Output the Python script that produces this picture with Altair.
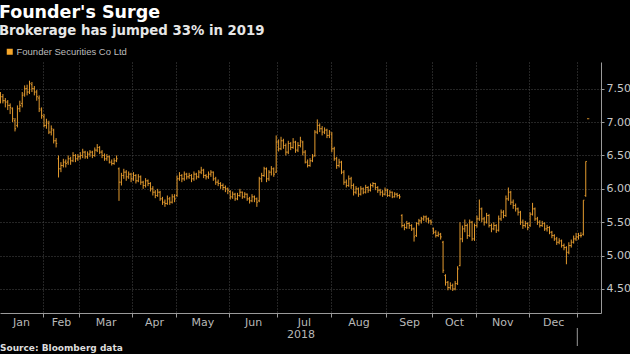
import json
import altair as alt
import pandas as pd

# ---------------- data ----------------
months = ["Jan", "Feb", "Mar", "Apr", "May", "Jun", "Jul", "Aug", "Sep", "Oct", "Nov", "Dec"]
# trading days shown per month: Jan 2018 (from Jan 8) ... Dec 2018, then Jan 2019 (to Jan 8)
trading_days = [18, 15, 22, 18, 22, 20, 22, 23, 19, 18, 22, 20, 5]
y_ticks = [4.5, 5.0, 5.5, 6.0, 6.5, 7.0, 7.5]
series_name = "Founder Securities Co Ltd"

opens = [
    7.35, 7.38, 7.32, 7.30, 7.25, 7.20, 7.02, 6.95, 7.20, 7.28, 7.42, 7.50, 7.45, 7.56, 7.50, 7.45, 7.36, 7.18,
    7.08, 6.95, 6.98, 6.85, 6.88, 6.72, 6.45, 6.30, 6.35, 6.40, 6.40, 6.45, 6.42, 6.50, 6.45,
    6.48, 6.50, 6.55, 6.48, 6.52, 6.55, 6.50, 6.58, 6.62, 6.55, 6.50, 6.45, 6.48, 6.40, 6.38, 6.42, 6.30, 6.10, 6.20, 6.25, 6.18, 6.22,
    6.15, 6.20, 6.12, 6.18, 6.10, 6.05, 6.12, 6.08, 6.00, 5.95, 5.90, 5.95, 5.85, 5.80, 5.78, 5.85, 5.80, 5.88,
    5.90, 6.15, 6.20, 6.15, 6.22, 6.18, 6.20, 6.15, 6.22, 6.18, 6.25, 6.28, 6.20, 6.18, 6.22, 6.25, 6.15, 6.10, 6.08, 6.05, 6.02, 6.00,
    5.96, 5.88, 5.92, 5.85, 5.90, 5.95, 5.88, 5.92, 5.85, 5.82, 5.88, 5.85, 5.82, 6.15, 6.20, 6.30, 6.15, 6.25, 6.30, 6.25,
    6.70, 6.60, 6.72, 6.65, 6.55, 6.68, 6.62, 6.70, 6.58, 6.65, 6.70, 6.55, 6.40, 6.35, 6.42, 6.50, 6.85, 6.95, 6.90, 6.85, 6.88, 6.80,
    6.82, 6.60, 6.45, 6.35, 6.40, 6.25, 6.10, 6.05, 6.15, 6.05, 5.95, 6.00, 5.92, 6.00, 5.95, 6.02, 5.98, 6.05, 6.08, 6.02, 5.98, 5.95, 5.92,
    5.98, 5.90, 5.95, 5.88, 5.92, 5.90, 5.60, 5.45, 5.42, 5.48, 5.45, 5.40, 5.30, 5.48, 5.52, 5.55, 5.58, 5.55, 5.52,
    5.40, 5.35, 5.30, 5.32, 5.20, 4.70, 4.60, 4.52, 4.55, 4.50, 4.58, 4.85, 5.25, 5.40, 5.45, 5.30, 5.50, 5.25,
    5.45, 5.55, 5.70, 5.55, 5.50, 5.60, 5.45, 5.40, 5.45, 5.38, 5.55, 5.65, 5.60, 5.85, 5.95, 5.80, 5.75, 5.70, 5.65, 5.50, 5.45, 5.48,
    5.45, 5.62, 5.70, 5.55, 5.50, 5.45, 5.48, 5.40, 5.42, 5.35, 5.30, 5.25, 5.20, 5.22, 5.15, 5.12, 5.05, 5.15, 5.20, 5.25,
    5.28, 5.30, 5.32, 5.90, 7.05,
]
highs = [
    7.45, 7.42, 7.36, 7.33, 7.28, 7.22, 7.06, 7.25, 7.32, 7.45, 7.55, 7.56, 7.62, 7.60, 7.54, 7.48, 7.40, 7.22,
    7.12, 7.05, 7.02, 6.95, 6.90, 6.76, 6.50, 6.40, 6.45, 6.44, 6.50, 6.48, 6.55, 6.52, 6.52,
    6.55, 6.60, 6.57, 6.56, 6.58, 6.57, 6.62, 6.67, 6.64, 6.58, 6.53, 6.52, 6.50, 6.44, 6.46, 6.50, 6.32, 6.24, 6.30, 6.28, 6.26, 6.24,
    6.25, 6.22, 6.22, 6.20, 6.12, 6.16, 6.14, 6.10, 6.04, 5.98, 6.00, 5.97, 5.88, 5.84, 5.90, 5.88, 5.92, 5.92,
    6.20, 6.25, 6.22, 6.26, 6.24, 6.24, 6.22, 6.26, 6.24, 6.28, 6.33, 6.30, 6.22, 6.26, 6.28, 6.26, 6.18, 6.14, 6.10, 6.08, 6.05, 6.02,
    5.98, 5.96, 5.94, 5.94, 6.00, 5.96, 5.95, 5.93, 5.88, 5.92, 5.90, 5.87, 6.18, 6.24, 6.33, 6.32, 6.28, 6.34, 6.32, 6.80,
    6.74, 6.78, 6.75, 6.68, 6.72, 6.70, 6.76, 6.72, 6.70, 6.78, 6.72, 6.58, 6.44, 6.46, 6.52, 6.88, 7.04, 6.98, 6.94, 6.92, 6.90, 6.88,
    6.85, 6.63, 6.48, 6.45, 6.42, 6.28, 6.14, 6.20, 6.18, 6.08, 6.04, 6.02, 6.04, 6.02, 6.06, 6.04, 6.08, 6.10, 6.09, 6.04, 6.00, 5.98, 6.02,
    6.00, 5.98, 5.96, 5.95, 5.94, 5.92, 5.62, 5.48, 5.52, 5.50, 5.47, 5.42, 5.50, 5.55, 5.58, 5.60, 5.60, 5.57, 5.54,
    5.42, 5.38, 5.36, 5.34, 5.22, 4.72, 4.62, 4.60, 4.58, 4.62, 4.84, 5.50, 5.45, 5.54, 5.48, 5.54, 5.52, 5.48,
    5.60, 5.84, 5.72, 5.58, 5.64, 5.62, 5.48, 5.50, 5.47, 5.60, 5.69, 5.68, 5.90, 6.02, 5.97, 5.84, 5.78, 5.72, 5.67, 5.54, 5.52, 5.50,
    5.65, 5.79, 5.72, 5.58, 5.53, 5.52, 5.50, 5.46, 5.44, 5.37, 5.32, 5.28, 5.26, 5.24, 5.18, 5.14, 5.20, 5.24, 5.30, 5.34,
    5.34, 5.35, 5.83, 6.41, 7.05,
]
lows = [
    7.28, 7.28, 7.22, 7.18, 7.12, 7.00, 6.86, 6.92, 7.15, 7.22, 7.38, 7.40, 7.42, 7.45, 7.40, 7.32, 7.15, 7.05,
    6.92, 6.90, 6.82, 6.80, 6.68, 6.62, 6.17, 6.25, 6.32, 6.32, 6.36, 6.36, 6.40, 6.40, 6.42,
    6.44, 6.46, 6.45, 6.45, 6.48, 6.46, 6.48, 6.55, 6.52, 6.46, 6.42, 6.42, 6.38, 6.35, 6.36, 6.40, 5.82, 6.05, 6.15, 6.12, 6.15, 6.10,
    6.12, 6.08, 6.10, 6.06, 6.00, 6.02, 6.04, 5.96, 5.90, 5.86, 5.88, 5.82, 5.76, 5.73, 5.76, 5.76, 5.78, 5.80,
    5.88, 6.12, 6.10, 6.12, 6.14, 6.15, 6.10, 6.12, 6.14, 6.16, 6.22, 6.16, 6.14, 6.15, 6.18, 6.12, 6.06, 6.04, 6.00, 5.98, 5.95, 5.92,
    5.84, 5.85, 5.82, 5.83, 5.88, 5.85, 5.86, 5.82, 5.78, 5.80, 5.80, 5.73, 5.80, 6.10, 6.18, 6.10, 6.12, 6.20, 6.18, 6.24,
    6.56, 6.58, 6.60, 6.50, 6.52, 6.58, 6.60, 6.54, 6.55, 6.62, 6.50, 6.38, 6.32, 6.33, 6.40, 6.48, 6.82, 6.85, 6.80, 6.82, 6.76, 6.76,
    6.55, 6.42, 6.30, 6.32, 6.22, 6.06, 6.02, 6.03, 6.00, 5.90, 5.92, 5.88, 5.90, 5.92, 5.93, 5.94, 5.96, 6.02, 5.98, 5.94, 5.90, 5.88, 5.90,
    5.88, 5.88, 5.86, 5.87, 5.87, 5.85, 5.42, 5.38, 5.40, 5.40, 5.37, 5.21, 5.28, 5.45, 5.48, 5.52, 5.50, 5.48, 5.46,
    5.32, 5.27, 5.28, 5.24, 4.74, 4.55, 4.48, 4.49, 4.47, 4.48, 4.56, 4.84, 5.20, 5.35, 5.25, 5.28, 5.22, 5.22,
    5.42, 5.52, 5.50, 5.45, 5.48, 5.42, 5.35, 5.38, 5.34, 5.36, 5.52, 5.56, 5.58, 5.82, 5.76, 5.70, 5.66, 5.60, 5.46, 5.40, 5.42, 5.38,
    5.43, 5.60, 5.52, 5.46, 5.42, 5.43, 5.37, 5.36, 5.32, 5.26, 5.22, 5.16, 5.17, 5.12, 5.08, 4.87, 5.02, 5.12, 5.18, 5.22,
    5.24, 5.27, 5.30, 5.88, 7.05,
]
closes = [
    7.38, 7.32, 7.30, 7.25, 7.22, 7.05, 6.90, 7.20, 7.25, 7.40, 7.50, 7.45, 7.58, 7.50, 7.45, 7.38, 7.20, 7.10,
    6.95, 7.00, 6.85, 6.90, 6.72, 6.68, 6.30, 6.35, 6.40, 6.38, 6.45, 6.42, 6.50, 6.45, 6.48,
    6.50, 6.55, 6.48, 6.52, 6.55, 6.50, 6.58, 6.62, 6.55, 6.50, 6.45, 6.48, 6.40, 6.38, 6.42, 6.45, 6.10, 6.20, 6.25, 6.18, 6.22, 6.15,
    6.20, 6.12, 6.18, 6.10, 6.05, 6.12, 6.08, 6.00, 5.95, 5.90, 5.95, 5.85, 5.80, 5.78, 5.85, 5.80, 5.88, 5.85,
    6.15, 6.20, 6.15, 6.22, 6.18, 6.20, 6.15, 6.22, 6.18, 6.25, 6.28, 6.20, 6.18, 6.22, 6.25, 6.15, 6.10, 6.08, 6.05, 6.02, 6.00, 5.98,
    5.88, 5.92, 5.85, 5.90, 5.95, 5.88, 5.92, 5.85, 5.82, 5.88, 5.85, 5.80, 6.15, 6.20, 6.30, 6.15, 6.25, 6.30, 6.22, 6.70,
    6.60, 6.72, 6.65, 6.55, 6.68, 6.62, 6.70, 6.58, 6.65, 6.72, 6.55, 6.40, 6.35, 6.42, 6.48, 6.85, 6.95, 6.90, 6.85, 6.88, 6.80, 6.85,
    6.60, 6.45, 6.35, 6.40, 6.25, 6.10, 6.05, 6.15, 6.05, 5.95, 6.00, 5.92, 6.00, 5.95, 6.02, 5.98, 6.05, 6.08, 6.02, 5.98, 5.95, 5.92, 5.98,
    5.90, 5.95, 5.88, 5.92, 5.90, 5.88, 5.45, 5.42, 5.48, 5.45, 5.40, 5.28, 5.48, 5.52, 5.55, 5.58, 5.55, 5.52, 5.50,
    5.35, 5.30, 5.32, 5.28, 4.78, 4.60, 4.52, 4.55, 4.50, 4.58, 4.80, 5.25, 5.40, 5.45, 5.30, 5.50, 5.25, 5.45,
    5.55, 5.70, 5.55, 5.50, 5.60, 5.45, 5.40, 5.45, 5.38, 5.55, 5.65, 5.60, 5.85, 5.95, 5.80, 5.75, 5.70, 5.65, 5.50, 5.45, 5.48, 5.42,
    5.62, 5.70, 5.55, 5.50, 5.45, 5.48, 5.40, 5.42, 5.35, 5.30, 5.25, 5.20, 5.22, 5.15, 5.12, 5.05, 5.15, 5.20, 5.25, 5.28,
    5.30, 5.30, 5.83, 6.41, 7.05,
]

n = len(closes)
assert len(opens) == len(highs) == len(lows) == n == sum(trading_days)

df = pd.DataFrame({
    "i": list(range(n)),
    "open": opens, "high": highs, "low": lows, "close": closes,
    "series": [series_name] * n,
})

# month boundaries and label positions (in trading-day index units)
starts = [0]
for c in trading_days[:-1]:
    starts.append(starts[-1] + c)
bounds = [s - 0.5 for s in starts[1:]]
mids = [(starts[k] + starts[k] + trading_days[k] - 1) / 2 for k in range(12)]

W, H = 601, 251
GRID = "#4a4a4a"
AXC = "#9a9a9a"
TXT = "#b8b8b8"
ORANGE = "#e39a2e"

x_scale = alt.Scale(domain=[-0.2, 248.3], nice=False, zero=False)
y_scale = alt.Scale(domain=[4.14, 7.90], nice=False, zero=False)

b_js = json.dumps(bounds)
m_js = json.dumps(mids)
mon_js = json.dumps(months)
test_b = f"indexof({b_js}, datum.value) >= 0"
label_expr = f"indexof({m_js}, datum.value) >= 0 ? {mon_js}[indexof({m_js}, datum.value)] : ''"

xaxis = alt.Axis(
    values=sorted(bounds + mids), labelExpr=label_expr, title="2018",
    grid=True, gridColor=GRID, gridDash=[1, 2],
    gridOpacity={"condition": {"test": test_b, "value": 1}, "value": 0},
    tickOpacity={"condition": {"test": test_b, "value": 1}, "value": 0},
    tickColor=AXC, tickSize=4, domainColor=AXC,
    labelColor=TXT, labelFont="DejaVu Sans", labelFontSize=11, labelPadding=-1,
    labelFlush=False, labelOverlap=False, labelBound=False,
    titleColor=TXT, titleFont="DejaVu Sans", titleFontSize=11, titleFontWeight="normal", titlePadding=1,
)
yaxis = alt.Axis(
    orient="right", values=y_ticks, format=".2f", title=None,
    grid=True, gridColor=GRID, gridDash=[1, 2],
    tickColor=AXC, tickSize=3, domainColor=AXC,
    labelColor="#c8c8c8", labelFont="DejaVu Sans", labelFontSize=11, labelPadding=2,
)
color = alt.Color(
    "series:N", scale=alt.Scale(range=[ORANGE]),
    legend=alt.Legend(
        title=None, orient="none", legendX=5, legendY=-15, padding=0,
        symbolType="square", symbolSize=36, symbolFillColor="#f5a62a", symbolStrokeWidth=0,
        labelColor="#bdbdbd", labelFont="Liberation Sans", labelFontSize=9.5, labelOffset=2,
    ),
)

base = alt.Chart(df)
hl = base.mark_rule(strokeWidth=1).encode(
    x=alt.X("i:Q", scale=x_scale, axis=xaxis),
    y=alt.Y("low:Q", scale=y_scale, axis=yaxis),
    y2="high:Q",
    color=color,
)
op = base.transform_calculate(xl="datum.i - 0.45").mark_rule(strokeWidth=1).encode(
    x=alt.X("xl:Q", scale=x_scale, axis=xaxis),
    x2="i:Q",
    y=alt.Y("open:Q", scale=y_scale, axis=yaxis),
    color=color,
)
cl = base.transform_calculate(xr="datum.i + 0.45").mark_rule(strokeWidth=1).encode(
    x=alt.X("i:Q", scale=x_scale, axis=xaxis),
    x2="xr:Q",
    y=alt.Y("close:Q", scale=y_scale, axis=yaxis),
    color=color,
)
sep = alt.Chart(pd.DataFrame({"b": [bounds[-1]]})).mark_rule(color=AXC, strokeWidth=1).encode(
    x=alt.X("b:Q", scale=x_scale, axis=xaxis),
    y=alt.value(H + 15), y2=alt.value(H + 33),
)
src = alt.Chart(pd.DataFrame({"t": ["Source: Bloomberg data"]})).mark_text(
    align="left", baseline="alphabetic", font="DejaVu Sans", fontSize=9,
    fontWeight="bold", color="#dddddd",
).encode(x=alt.value(0), y=alt.value(H + 38), text="t:N")

chart = alt.layer(hl, op, cl, sep, src).properties(
    width=W, height=H,
    title=alt.TitleParams(
        text="Founder's Surge", subtitle="Brokerage has jumped 33% in 2019",
        anchor="start", font="DejaVu Sans", fontSize=17.5, fontWeight="bold", color="white",
        subtitleFont="DejaVu Sans", subtitleFontSize=13.3, subtitleFontWeight="bold",
        subtitleColor="#e6e6e6", subtitlePadding=2, offset=10,
    ),
    background="black",
    padding={"left": 0, "top": 62, "right": 29, "bottom": 41},
    autosize=alt.AutoSizeParams(type="none"),
).configure_view(strokeWidth=0)

chart.save("out.html", embed_options={"renderer": "svg", "actions": False})
